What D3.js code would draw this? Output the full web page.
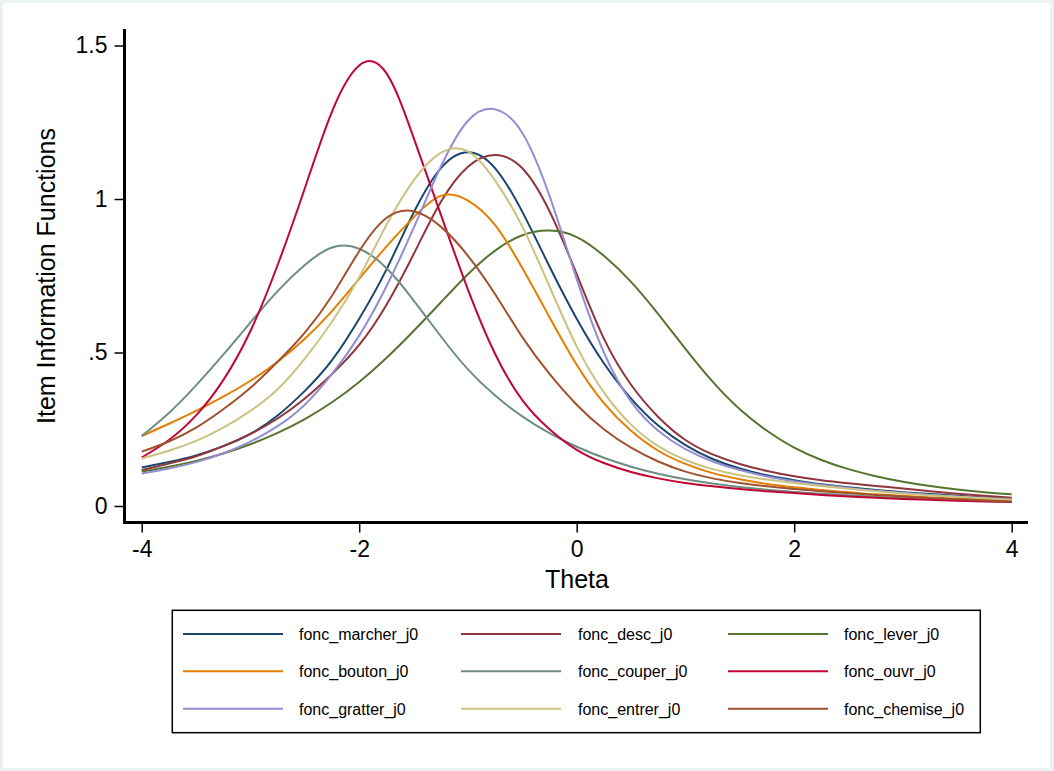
<!DOCTYPE html>
<html>
<head>
<meta charset="utf-8">
<script src="https://cdn.jsdelivr.net/npm/d3@7/dist/d3.min.js"></script>
<style>
  html, body { margin: 0; padding: 0; background: #eaf2f3; }
  svg { display: block; }
  text { font-family: "Liberation Sans", Arial, Helvetica, sans-serif; fill: #000; }
</style>
</head>
<body>
<svg id="chart" width="1054" height="771"></svg>
<script>
// ---- data ----
const theta = [-4, -3.75, -3.5, -3.25, -3, -2.75, -2.5, -2.25, -2, -1.75, -1.5, -1.25, -1, -0.75, -0.5, -0.25,
  0, 0.25, 0.5, 0.75, 1, 1.25, 1.5, 1.75, 2, 2.25, 2.5, 2.75, 3, 3.25, 3.5, 3.75, 4];

const seriesNames = ["fonc_marcher_j0", "fonc_desc_j0", "fonc_lever_j0",
  "fonc_bouton_j0", "fonc_couper_j0", "fonc_ouvr_j0",
  "fonc_gratter_j0", "fonc_entrer_j0", "fonc_chemise_j0"];

const marcher = [0.125, 0.143, 0.165, 0.195, 0.235, 0.295, 0.375, 0.475, 0.61, 0.77, 0.955, 1.10, 1.152, 1.10, 0.958, 0.78,
  0.61, 0.465, 0.35, 0.262, 0.198, 0.153, 0.122, 0.10, 0.084, 0.071, 0.061, 0.052, 0.045, 0.039, 0.033, 0.028, 0.023];
const desc = [0.117, 0.138, 0.162, 0.195, 0.235, 0.285, 0.35, 0.43, 0.525, 0.655, 0.82, 0.99, 1.105, 1.143, 1.10, 0.96,
  0.755, 0.545, 0.395, 0.29, 0.215, 0.168, 0.137, 0.114, 0.097, 0.084, 0.074, 0.065, 0.057, 0.048, 0.04, 0.033, 0.027];
const lever = [0.112, 0.128, 0.147, 0.171, 0.201, 0.238, 0.283, 0.338, 0.404, 0.482, 0.57, 0.663, 0.755, 0.832, 0.882, 0.897,
  0.876, 0.815, 0.73, 0.625, 0.512, 0.405, 0.315, 0.245, 0.19, 0.15, 0.12, 0.097, 0.079, 0.065, 0.054, 0.045, 0.038];
const bouton = [0.228, 0.268, 0.31, 0.356, 0.408, 0.47, 0.545, 0.635, 0.74, 0.845, 0.94, 1.01, 0.995, 0.915, 0.775, 0.615,
  0.46, 0.335, 0.245, 0.18, 0.137, 0.107, 0.087, 0.072, 0.061, 0.052, 0.045, 0.038, 0.033, 0.028, 0.024, 0.02, 0.017];
const couper = [0.228, 0.303, 0.393, 0.493, 0.598, 0.70, 0.785, 0.842, 0.838, 0.775, 0.67, 0.553, 0.445, 0.36, 0.292, 0.237,
  0.193, 0.157, 0.128, 0.105, 0.087, 0.073, 0.062, 0.053, 0.046, 0.04, 0.035, 0.03, 0.026, 0.022, 0.019, 0.016, 0.014];
const ouvr = [0.158, 0.215, 0.295, 0.41, 0.57, 0.785, 1.035, 1.285, 1.435, 1.41, 1.20, 0.95, 0.705, 0.495, 0.345, 0.25,
  0.183, 0.14, 0.111, 0.09, 0.075, 0.064, 0.055, 0.048, 0.042, 0.036, 0.031, 0.027, 0.023, 0.02, 0.017, 0.015, 0.013];
const gratter = [0.106, 0.122, 0.143, 0.172, 0.21, 0.26, 0.33, 0.43, 0.555, 0.715, 0.905, 1.105, 1.255, 1.292, 1.215, 1.01,
  0.74, 0.50, 0.34, 0.245, 0.185, 0.145, 0.117, 0.096, 0.081, 0.069, 0.059, 0.05, 0.043, 0.036, 0.031, 0.026, 0.022];
const entrer = [0.155, 0.18, 0.212, 0.255, 0.31, 0.38, 0.48, 0.60, 0.745, 0.915, 1.06, 1.15, 1.155, 1.06, 0.91, 0.715,
  0.52, 0.37, 0.265, 0.195, 0.15, 0.12, 0.10, 0.086, 0.075, 0.065, 0.056, 0.048, 0.041, 0.035, 0.03, 0.025, 0.02];
const chemise = [0.177, 0.21, 0.255, 0.315, 0.385, 0.47, 0.565, 0.685, 0.83, 0.938, 0.96, 0.91, 0.815, 0.69, 0.55, 0.43,
  0.33, 0.25, 0.19, 0.145, 0.112, 0.09, 0.075, 0.064, 0.055, 0.048, 0.042, 0.036, 0.031, 0.026, 0.022, 0.018, 0.015];

const seriesColors = ["#1a476f", "#90353b", "#55752f", "#e37e00", "#6e8e84", "#c10534", "#938dd2", "#cac27e", "#a0522d"];

const xTicks = [-4, -2, 0, 2, 4];
const yTicks = [0, 0.5, 1, 1.5];
const yTickLabels = ["0", ".5", "1", "1.5"];
const xTitle = "Theta";
const yTitle = "Item Information Functions";

// ---- drawing ----
const seriesValues = [marcher, desc, lever, bouton, couper, ouvr, gratter, entrer, chemise];
const svg = d3.select("#chart");

svg.append("rect").attr("x", 0).attr("y", 0).attr("width", 1054).attr("height", 771).attr("fill", "#eaf2f3");
svg.append("rect").attr("x", 3).attr("y", 3).attr("width", 1047).attr("height", 765).attr("fill", "#ffffff");

const x = d3.scaleLinear().domain([-4, 4]).range([141.7, 1011.7]);
const y = d3.scaleLinear().domain([0, 1.5]).range([506, 45.5]);

// curves
const line = d3.line()
  .x((d, i) => x(theta[i]))
  .y(d => y(d))
  .curve(d3.curveNatural);

const plot = svg.append("g");
seriesValues.forEach((vals, k) => {
  plot.append("path")
    .attr("d", line(vals))
    .attr("fill", "none")
    .attr("stroke", seriesColors[k])
    .attr("stroke-width", 2)
    .attr("stroke-linejoin", "round");
});

// y axis
const yAxis = d3.axisLeft(y).tickValues(yTicks)
  .tickFormat((d, i) => yTickLabels[i]).tickSize(10).tickPadding(7);
const gy = svg.append("g").attr("transform", "translate(124.5,0)").call(yAxis);
gy.select(".domain").remove();
gy.selectAll(".tick line").attr("stroke", "#000").attr("stroke-width", 1.5);
gy.selectAll(".tick text").attr("font-size", 23).attr("font-family", "Liberation Sans, Arial, sans-serif");
svg.append("line").attr("x1", 124.5).attr("x2", 124.5).attr("y1", 29).attr("y2", 524)
  .attr("stroke", "#000").attr("stroke-width", 3);

// x axis
const xAxis = d3.axisBottom(x).tickValues(xTicks).tickFormat(d3.format("d")).tickSize(10).tickPadding(8);
const gx = svg.append("g").attr("transform", "translate(0,522.5)").call(xAxis);
gx.select(".domain").remove();
gx.selectAll(".tick line").attr("stroke", "#000").attr("stroke-width", 1.5);
gx.selectAll(".tick text").attr("font-size", 23).attr("font-family", "Liberation Sans, Arial, sans-serif")
  .text(d => (d < 0 ? "-" + Math.abs(d) : String(d)));
svg.append("line").attr("x1", 123).attr("x2", 1028).attr("y1", 522.5).attr("y2", 522.5)
  .attr("stroke", "#000").attr("stroke-width", 3);

// titles
svg.append("text").attr("x", 577).attr("y", 588).attr("text-anchor", "middle")
  .attr("font-size", 25).text(xTitle);
svg.append("text").attr("transform", "translate(55,276) rotate(-90)").attr("text-anchor", "middle")
  .attr("font-size", 25).text(yTitle);

// legend
svg.append("rect").attr("x", 172.3).attr("y", 610.3).attr("width", 808).attr("height", 122.4)
  .attr("fill", "#fff").attr("stroke", "#000").attr("stroke-width", 1.5);
const colLine = [183, 461, 728];
const colText = [299, 578, 844];
const rowY = [634, 671.3, 708.7];
seriesNames.forEach((name, k) => {
  const c = k % 3, r = Math.floor(k / 3);
  svg.append("line").attr("x1", colLine[c]).attr("x2", colLine[c] + 100)
    .attr("y1", rowY[r]).attr("y2", rowY[r])
    .attr("stroke", seriesColors[k]).attr("stroke-width", 2);
  svg.append("text").attr("x", colText[c]).attr("y", rowY[r] + 6)
    .attr("font-size", 16).text(name);
});
</script>
</body>
</html>
